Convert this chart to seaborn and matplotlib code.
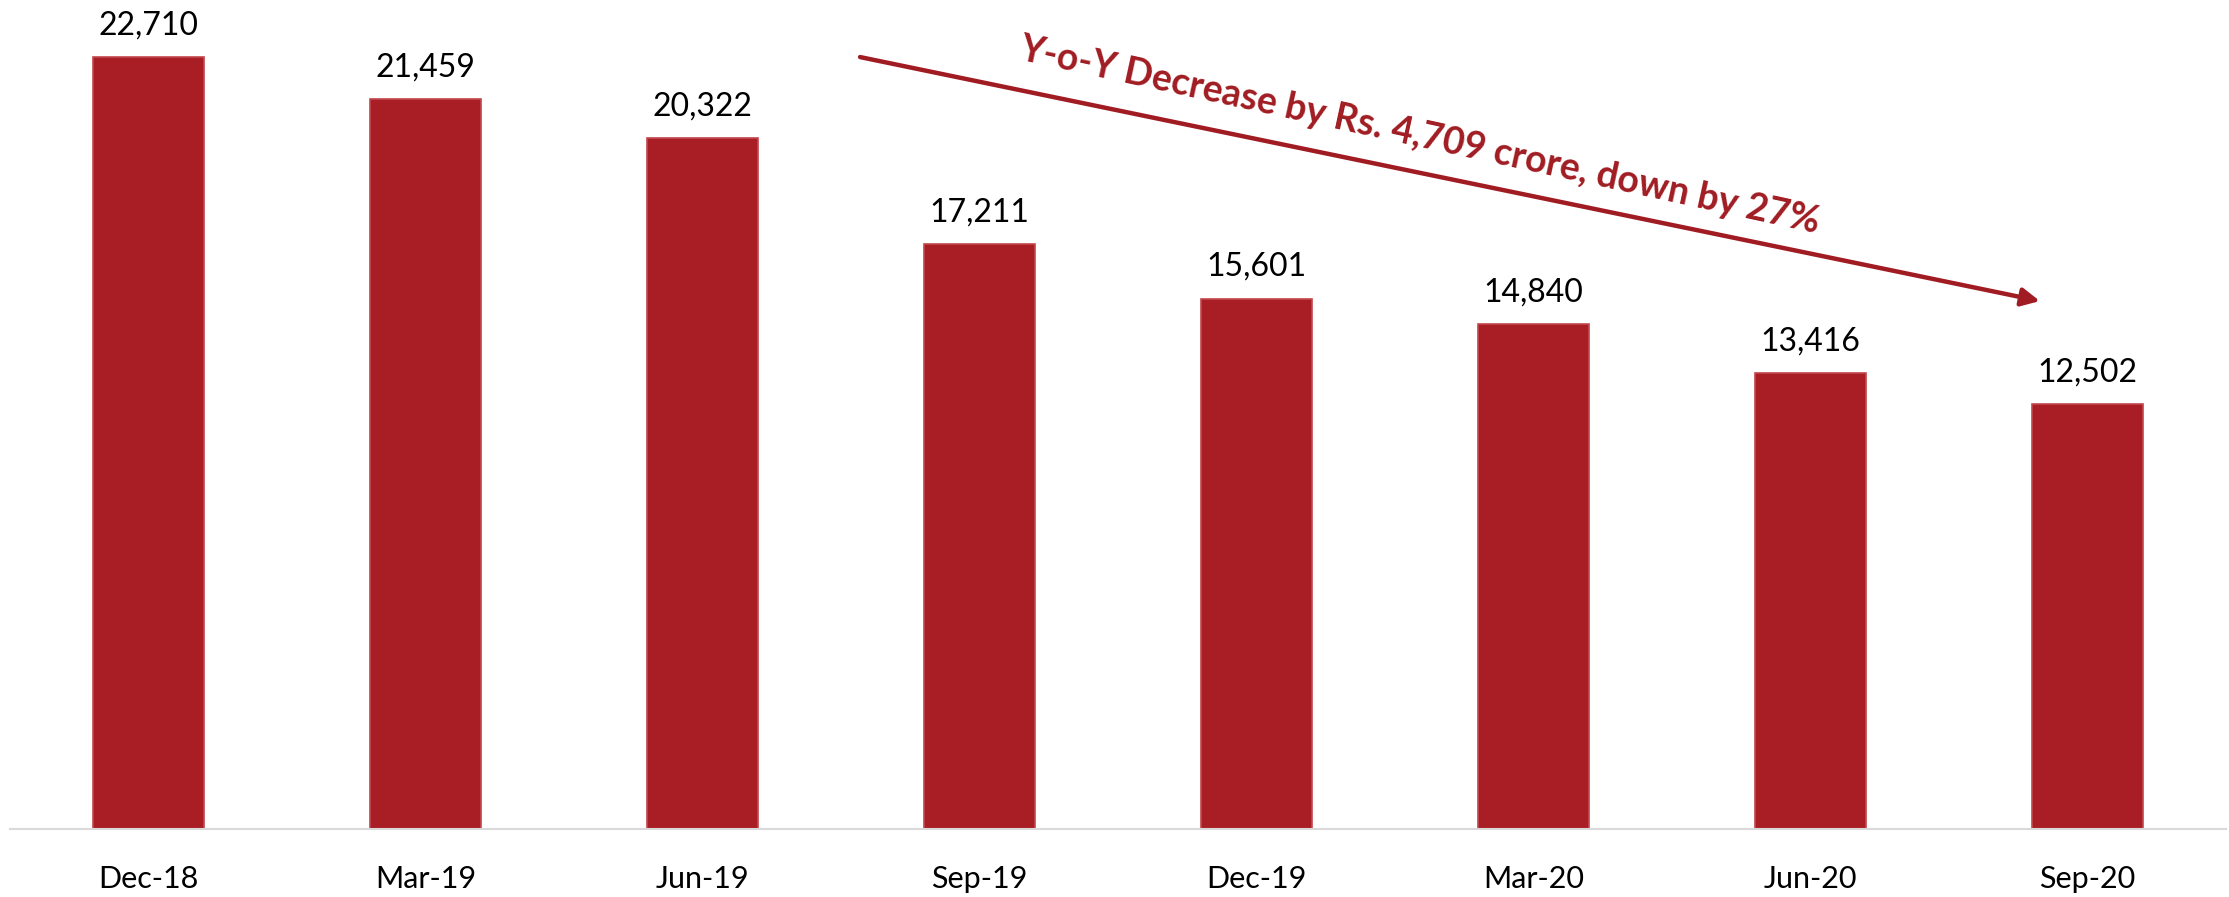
import matplotlib
matplotlib.use("Agg")
import matplotlib.pyplot as plt
import seaborn as sns
import pandas as pd

categories = ["Dec-18", "Mar-19", "Jun-19", "Sep-19", "Dec-19", "Mar-20", "Jun-20", "Sep-20"]
values = [22710, 21459, 20322, 17211, 15601, 14840, 13416, 12502]
annotation_text = "Y-o-Y Decrease by Rs. 4,709 crore, down by 27%"

sns.set_theme(style="white")
plt.rcParams['font.family'] = ['Lato', 'DejaVu Sans']

df = pd.DataFrame({"quarter": categories, "value": values})

fig = plt.figure(figsize=(22.29, 8.97), dpi=100)
ax = fig.add_axes([10/2229, (897-829)/897, 2216/2229, 816/897])

sns.barplot(data=df, x="quarter", y="value", color="#A81E24", width=0.4,
            saturation=1, edgecolor="#c2474d", linewidth=1.2, ax=ax)

ax.set_xlim(-0.5, len(categories) - 0.5)
ax.set_ylim(0, 24000)

for i, v in enumerate(values):
    ax.annotate(f"{v:,}", (i, v), xytext=(0, 12), textcoords="offset points",
                ha="center", va="bottom", fontsize=23, color="black")

for s in ["top", "right", "left"]:
    ax.spines[s].set_visible(False)
ax.spines["bottom"].set_color("#d9d9d9")
ax.spines["bottom"].set_linewidth(1.5)
ax.set_yticks([])
ax.set_xlabel("")
ax.set_ylabel("")
ax.tick_params(axis="x", length=0, pad=26, labelsize=22, labelcolor="black")

ax.annotate("", xy=(0.916, 0.647), xytext=(0.3836, 0.946), xycoords="axes fraction",
            textcoords="axes fraction",
            arrowprops=dict(arrowstyle="-|>,head_length=0.9,head_width=0.45",
                            color="#A01C22", lw=3.2, shrinkA=0, shrinkB=0))
ax.text(0.636, 0.850, annotation_text, transform=ax.transAxes, rotation=-12.3,
        rotation_mode="anchor", ha="center", va="center", fontsize=27,
        fontweight="bold", color="#A01C22")

fig.savefig("out.png", dpi=100, facecolor="white")
